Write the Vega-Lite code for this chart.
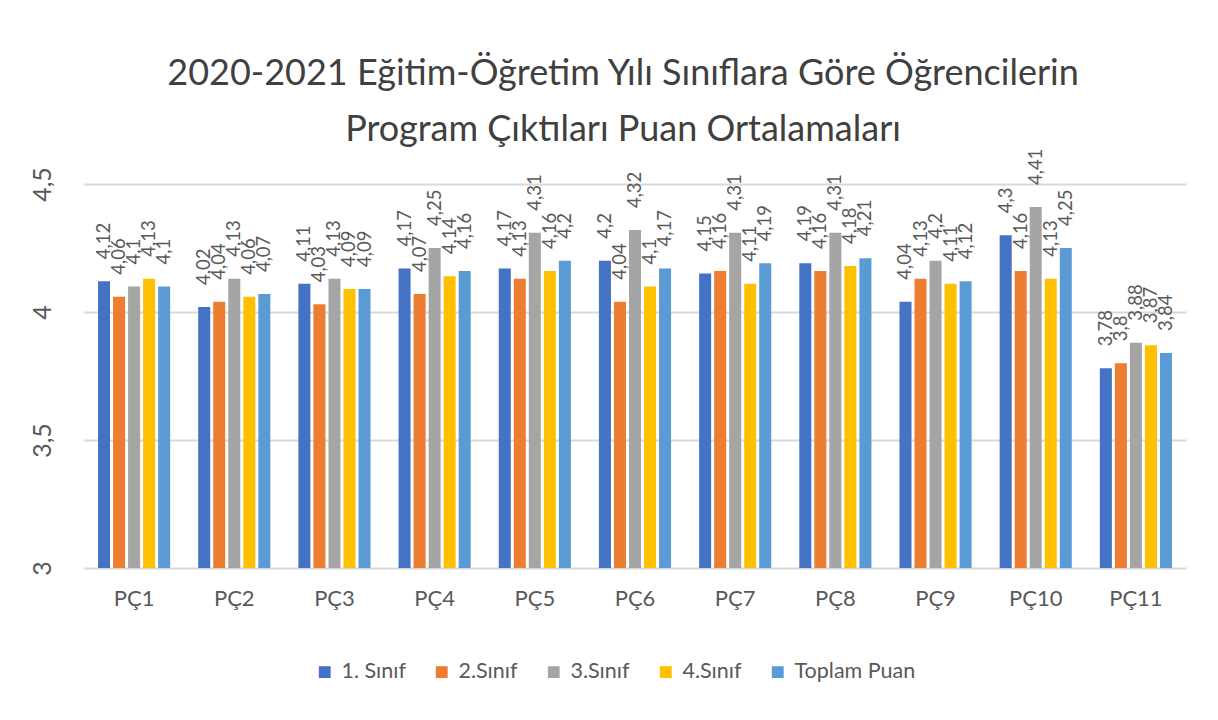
{
  "$schema": "https://vega.github.io/schema/vega-lite/v6.json",
  "width": 1102,
  "height": 384,
  "autosize": {"type": "none"},
  "padding": {"left": 84, "top": 184, "right": 32, "bottom": 152},
  "background": "white",
  "title": {
    "text": ["2020-2021  Eğitim-Öğretim Yılı Sınıflara Göre Öğrencilerin", "Program Çıktıları Puan Ortalamaları"],
    "font": "Lato",
    "fontSize": 36,
    "fontWeight": "normal",
    "color": "#404040",
    "anchor": "middle",
    "lineHeight": 56,
    "offset": 0,
    "dx": -12
  },
  "config": {
    "locale": {"number": {"decimal": ",", "thousands": ".", "grouping": [3], "currency": ["", ""]}},
    "view": {"stroke": null},
    "font": "Lato"
  },
  "data": {
    "values": [
      {"pc": "PÇ1", "sinif": "1. Sınıf", "puan": 4.12},
      {"pc": "PÇ1", "sinif": "2.Sınıf", "puan": 4.06},
      {"pc": "PÇ1", "sinif": "3.Sınıf", "puan": 4.1},
      {"pc": "PÇ1", "sinif": "4.Sınıf", "puan": 4.13},
      {"pc": "PÇ1", "sinif": "Toplam Puan", "puan": 4.1},
      {"pc": "PÇ2", "sinif": "1. Sınıf", "puan": 4.02},
      {"pc": "PÇ2", "sinif": "2.Sınıf", "puan": 4.04},
      {"pc": "PÇ2", "sinif": "3.Sınıf", "puan": 4.13},
      {"pc": "PÇ2", "sinif": "4.Sınıf", "puan": 4.06},
      {"pc": "PÇ2", "sinif": "Toplam Puan", "puan": 4.07},
      {"pc": "PÇ3", "sinif": "1. Sınıf", "puan": 4.11},
      {"pc": "PÇ3", "sinif": "2.Sınıf", "puan": 4.03},
      {"pc": "PÇ3", "sinif": "3.Sınıf", "puan": 4.13},
      {"pc": "PÇ3", "sinif": "4.Sınıf", "puan": 4.09},
      {"pc": "PÇ3", "sinif": "Toplam Puan", "puan": 4.09},
      {"pc": "PÇ4", "sinif": "1. Sınıf", "puan": 4.17},
      {"pc": "PÇ4", "sinif": "2.Sınıf", "puan": 4.07},
      {"pc": "PÇ4", "sinif": "3.Sınıf", "puan": 4.25},
      {"pc": "PÇ4", "sinif": "4.Sınıf", "puan": 4.14},
      {"pc": "PÇ4", "sinif": "Toplam Puan", "puan": 4.16},
      {"pc": "PÇ5", "sinif": "1. Sınıf", "puan": 4.17},
      {"pc": "PÇ5", "sinif": "2.Sınıf", "puan": 4.13},
      {"pc": "PÇ5", "sinif": "3.Sınıf", "puan": 4.31},
      {"pc": "PÇ5", "sinif": "4.Sınıf", "puan": 4.16},
      {"pc": "PÇ5", "sinif": "Toplam Puan", "puan": 4.2},
      {"pc": "PÇ6", "sinif": "1. Sınıf", "puan": 4.2},
      {"pc": "PÇ6", "sinif": "2.Sınıf", "puan": 4.04},
      {"pc": "PÇ6", "sinif": "3.Sınıf", "puan": 4.32},
      {"pc": "PÇ6", "sinif": "4.Sınıf", "puan": 4.1},
      {"pc": "PÇ6", "sinif": "Toplam Puan", "puan": 4.17},
      {"pc": "PÇ7", "sinif": "1. Sınıf", "puan": 4.15},
      {"pc": "PÇ7", "sinif": "2.Sınıf", "puan": 4.16},
      {"pc": "PÇ7", "sinif": "3.Sınıf", "puan": 4.31},
      {"pc": "PÇ7", "sinif": "4.Sınıf", "puan": 4.11},
      {"pc": "PÇ7", "sinif": "Toplam Puan", "puan": 4.19},
      {"pc": "PÇ8", "sinif": "1. Sınıf", "puan": 4.19},
      {"pc": "PÇ8", "sinif": "2.Sınıf", "puan": 4.16},
      {"pc": "PÇ8", "sinif": "3.Sınıf", "puan": 4.31},
      {"pc": "PÇ8", "sinif": "4.Sınıf", "puan": 4.18},
      {"pc": "PÇ8", "sinif": "Toplam Puan", "puan": 4.21},
      {"pc": "PÇ9", "sinif": "1. Sınıf", "puan": 4.04},
      {"pc": "PÇ9", "sinif": "2.Sınıf", "puan": 4.13},
      {"pc": "PÇ9", "sinif": "3.Sınıf", "puan": 4.2},
      {"pc": "PÇ9", "sinif": "4.Sınıf", "puan": 4.11},
      {"pc": "PÇ9", "sinif": "Toplam Puan", "puan": 4.12},
      {"pc": "PÇ10", "sinif": "1. Sınıf", "puan": 4.3},
      {"pc": "PÇ10", "sinif": "2.Sınıf", "puan": 4.16},
      {"pc": "PÇ10", "sinif": "3.Sınıf", "puan": 4.41},
      {"pc": "PÇ10", "sinif": "4.Sınıf", "puan": 4.13},
      {"pc": "PÇ10", "sinif": "Toplam Puan", "puan": 4.25},
      {"pc": "PÇ11", "sinif": "1. Sınıf", "puan": 3.78},
      {"pc": "PÇ11", "sinif": "2.Sınıf", "puan": 3.8},
      {"pc": "PÇ11", "sinif": "3.Sınıf", "puan": 3.88},
      {"pc": "PÇ11", "sinif": "4.Sınıf", "puan": 3.87},
      {"pc": "PÇ11", "sinif": "Toplam Puan", "puan": 3.84}
    ]
  },
  "encoding": {
    "x": {
      "field": "pc", "type": "nominal", "sort": null,
      "scale": {"paddingInner": 0.25, "paddingOuter": 0.125},
      "axis": {
        "title": null, "domain": false, "ticks": false, "labelAngle": 0,
        "labelFont": "Lato", "labelFontSize": 22, "labelColor": "#595959", "labelPadding": 20
      }
    },
    "xOffset": {
      "field": "sinif", "type": "nominal",
      "sort": ["1. Sınıf", "2.Sınıf", "3.Sınıf", "4.Sınıf", "Toplam Puan"],
      "scale": {"paddingInner": 0.2, "paddingOuter": 0.1}
    },
    "y": {
      "field": "puan", "type": "quantitative",
      "scale": {"domain": [3, 4.5], "zero": false, "nice": false},
      "axis": {
        "title": null, "domain": false, "ticks": false, "values": [3, 3.5, 4, 4.5],
        "format": "~g", "labelAngle": -90, "labelAlign": "center", "labelBaseline": "bottom",
        "labelFont": "Lato", "labelFontSize": 25, "labelColor": "#595959", "labelPadding": 29,
        "gridColor": "#D9D9D9", "gridWidth": 2
      }
    }
  },
  "layer": [
    {
      "mark": {"type": "bar", "clip": true},
      "encoding": {
        "color": {
          "field": "sinif", "type": "nominal",
          "scale": {
            "domain": ["1. Sınıf", "2.Sınıf", "3.Sınıf", "4.Sınıf", "Toplam Puan"],
            "range": ["#4472C4", "#ED7D31", "#A5A5A5", "#FFC000", "#5B9BD5"]
          },
          "legend": {
            "title": null, "orient": "none", "direction": "horizontal",
            "legendX": 230, "legendY": 477,
            "symbolType": "square", "symbolSize": 140, "symbolStrokeWidth": 0,
            "labelFont": "Lato", "labelFontSize": 21.5, "labelColor": "#595959",
            "columnPadding": 25, "labelOffset": 6
          }
        }
      }
    },
    {
      "mark": {
        "type": "text", "angle": 270, "align": "left", "baseline": "middle",
        "dx": 22, "font": "Lato", "fontSize": 18.5, "color": "#595959"
      },
      "encoding": {
        "text": {"field": "puan", "type": "quantitative", "format": "~g"}
      }
    }
  ]
}
